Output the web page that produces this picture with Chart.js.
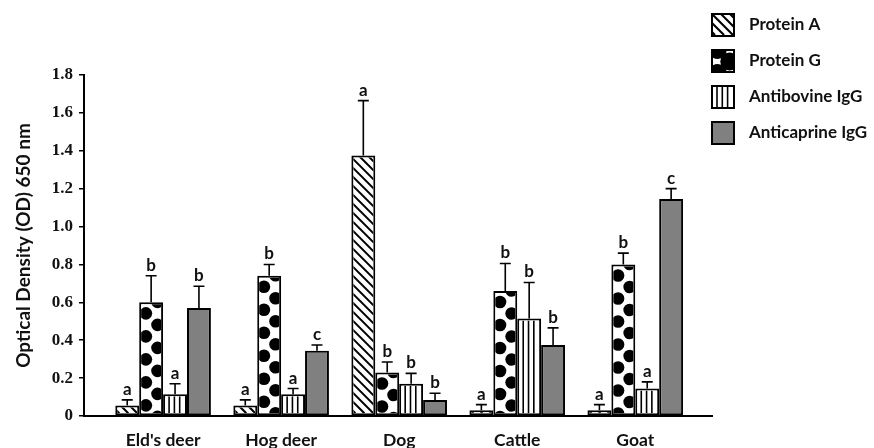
<!DOCTYPE html>
<html lang="en">
<head>
<meta charset="UTF-8">
<title>Optical density by species</title>
<script src="https://cdn.jsdelivr.net/npm/chart.js"></script>
<style>
  html, body { margin: 0; padding: 0; background: #fff; }
  .wrap { width: 874px; height: 448px; }
</style>
</head>
<body>
<div class="wrap"><canvas id="odChart"></canvas></div>
<script>
  // values (mean OD and upper error)
  const categories = ["Eld's deer", "Hog deer", "Dog", "Cattle", "Goat"];
  const seriesNames = ["Protein A", "Protein G", "Antibovine IgG", "Anticaprine IgG"];
  const proteinA    = [0.055, 0.055, 1.375, 0.03, 0.03];
  const proteinG    = [0.60, 0.74, 0.23, 0.66, 0.80];
  const antibovine  = [0.115, 0.115, 0.17, 0.515, 0.145];
  const anticaprine = [0.57, 0.345, 0.085, 0.375, 1.145];
  const errA   = [0.03, 0.03, 0.29, 0.03, 0.03];
  const errG   = [0.14, 0.06, 0.055, 0.145, 0.06];
  const errBov = [0.055, 0.03, 0.055, 0.19, 0.035];
  const errCap = [0.115, 0.03, 0.035, 0.09, 0.055];
  const lettersA   = ['a', 'a', 'a', 'a', 'a'];
  const lettersG   = ['b', 'b', 'b', 'b', 'b'];
  const lettersBov = ['a', 'a', 'b', 'b', 'a'];
  const lettersCap = ['b', 'c', 'b', 'b', 'c'];
  const yTicks = [0, 0.2, 0.4, 0.6, 0.8, 1.0, 1.2, 1.4, 1.6, 1.8];

  const INK = '#111';
  const LABEL_FONT = 'Lato';

  // hatch / dot fills, drawn inside a rectangle
  function paintPattern(ctx, kind, left, top, w, h, dotR, dotShift) {
    if (kind === 'solid') return;
    ctx.save();
    ctx.beginPath();
    ctx.rect(left, top, w, h);
    ctx.clip();
    ctx.fillStyle = '#000';
    ctx.strokeStyle = '#000';
    if (kind === 'diag') {
      ctx.lineWidth = 2.1;
      ctx.beginPath();
      const bottom = top + h;
      for (let d = -h - 9; d < w + 9; d += 9) {
        ctx.moveTo(left + d, bottom - h - 2);
        ctx.lineTo(left + d + h + 2, bottom);
      }
      ctx.stroke();
    } else if (kind === 'dots') {
      const r = dotR || 6.3;
      const shift = dotShift === undefined ? 9 : dotShift;
      for (let k = -1; ; k++) {
        const cy = top + shift + k * 11.5;
        if (cy - r > top + h) break;
        const cx = left + (Math.abs(k) % 2 === 0 ? 4.7 : 16.3);
        ctx.beginPath();
        ctx.arc(cx, cy, r, 0, Math.PI * 2);
        ctx.fill();
      }
    } else if (kind === 'vlines') {
      ctx.lineWidth = 1.6;
      ctx.beginPath();
      for (let x = left + 4; x < left + w - 1; x += 5.3) {
        ctx.moveTo(x, top);
        ctx.lineTo(x, top + h);
      }
      ctx.stroke();
    }
    ctx.restore();
  }

  const barDecor = {
    id: 'barDecor',
    afterDatasetsDraw(chart) {
      const ctx = chart.ctx;
      const yScale = chart.scales.y;
      chart.data.datasets.forEach((ds, i) => {
        const meta = chart.getDatasetMeta(i);
        meta.data.forEach((bar, j) => {
          const left = bar.x - bar.width / 2;
          const inner = 2;
          paintPattern(ctx, ds.pattern, left + inner, bar.y + inner, bar.width - inner * 2, bar.base - bar.y - inner * 2);
          // upper error whisker
          const capY = yScale.getPixelForValue(ds.data[j] + ds.errors[j]);
          ctx.save();
          ctx.strokeStyle = '#000';
          ctx.lineWidth = 1.6;
          ctx.beginPath();
          ctx.moveTo(bar.x, bar.y);
          ctx.lineTo(bar.x, capY);
          ctx.moveTo(bar.x - 5.5, capY);
          ctx.lineTo(bar.x + 5.5, capY);
          ctx.stroke();
          ctx.fillStyle = INK;
          ctx.font = 'bold 17px ' + LABEL_FONT;
          ctx.textAlign = 'center';
          ctx.textBaseline = 'alphabetic';
          ctx.fillText(ds.letters[j], bar.x, capY - 5);
          ctx.restore();
        });
      });
    }
  };

  const sideLegend = {
    id: 'sideLegend',
    afterDraw(chart) {
      const ctx = chart.ctx;
      chart.data.datasets.forEach((ds, i) => {
        const x = 711, y = 13 + i * 36, s = 24;
        ctx.save();
        ctx.fillStyle = ds.backgroundColor;
        ctx.fillRect(x, y, s, s);
        paintPattern(ctx, ds.pattern, x + 2, y + 2, s - 4, s - 4, 9, -1);
        ctx.strokeStyle = '#000';
        ctx.lineWidth = 2;
        ctx.strokeRect(x + 1, y + 1, s - 2, s - 2);
        ctx.fillStyle = INK;
        ctx.font = 'bold 17px ' + LABEL_FONT;
        ctx.textAlign = 'left';
        ctx.textBaseline = 'middle';
        ctx.fillText(ds.label, 749, y + s / 2);
        ctx.restore();
      });
    }
  };

  function makeSet(i, data, errors, letters, fill, pattern) {
    return {
      label: seriesNames[i],
      data: data,
      errors: errors,
      letters: letters,
      pattern: pattern,
      backgroundColor: fill,
      borderColor: '#000',
      borderWidth: 2,
      borderSkipped: false,
      barPercentage: 1.0,
      categoryPercentage: 0.81
    };
  }

  new Chart(document.getElementById('odChart'), {
    type: 'bar',
    data: {
      labels: categories.map((c, i) => i),
      datasets: [
        makeSet(0, proteinA, errA, lettersA, '#fff', 'diag'),
        makeSet(1, proteinG, errG, lettersG, '#fff', 'dots'),
        makeSet(2, antibovine, errBov, lettersBov, '#fff', 'vlines'),
        makeSet(3, anticaprine, errCap, lettersCap, '#808080', 'solid')
      ]
    },
    options: {
      responsive: true,
      maintainAspectRatio: false,
      animation: false,
      layout: { padding: { top: 75, right: 162, bottom: 0, left: 0 } },
      plugins: { legend: { display: false }, tooltip: { enabled: false } },
      scales: {
        x: {
          type: 'linear',
          offset: false,
          min: -0.67,
          max: 4.65,
          afterBuildTicks: s => { s.ticks = categories.map((c, i) => ({ value: i })); },
          afterFit: s => { s.height = 32; },
          ticks: {
            callback: v => categories[v],
            autoSkip: false,
            maxRotation: 0,
            padding: 14,
            color: INK,
            font: { family: LABEL_FONT, weight: 'bold', size: 17.5 }
          },
          grid: { display: false, drawTicks: false },
          border: { display: true, color: '#000', width: 2 }
        },
        y: {
          min: 0,
          max: 1.8,
          afterBuildTicks: s => { s.ticks = yTicks.map(v => ({ value: v })); },
          afterFit: s => { s.width = 84; },
          ticks: {
            callback: v => v === 0 ? '0' : v.toFixed(1),
            padding: 6,
            color: INK,
            font: { family: 'Liberation Serif', weight: 'bold', size: 17 }
          },
          grid: { drawOnChartArea: false, drawTicks: true, tickLength: 5, color: '#000', lineWidth: 1.5 },
          border: { color: '#000', width: 2 },
          title: {
            display: true,
            text: 'Optical Density (OD) 650 nm',
            color: INK,
            padding: { top: 12, bottom: 0 },
            font: { family: LABEL_FONT, weight: 'bold', size: 19 }
          }
        }
      }
    },
    plugins: [barDecor, sideLegend]
  });
</script>
</body>
</html>
